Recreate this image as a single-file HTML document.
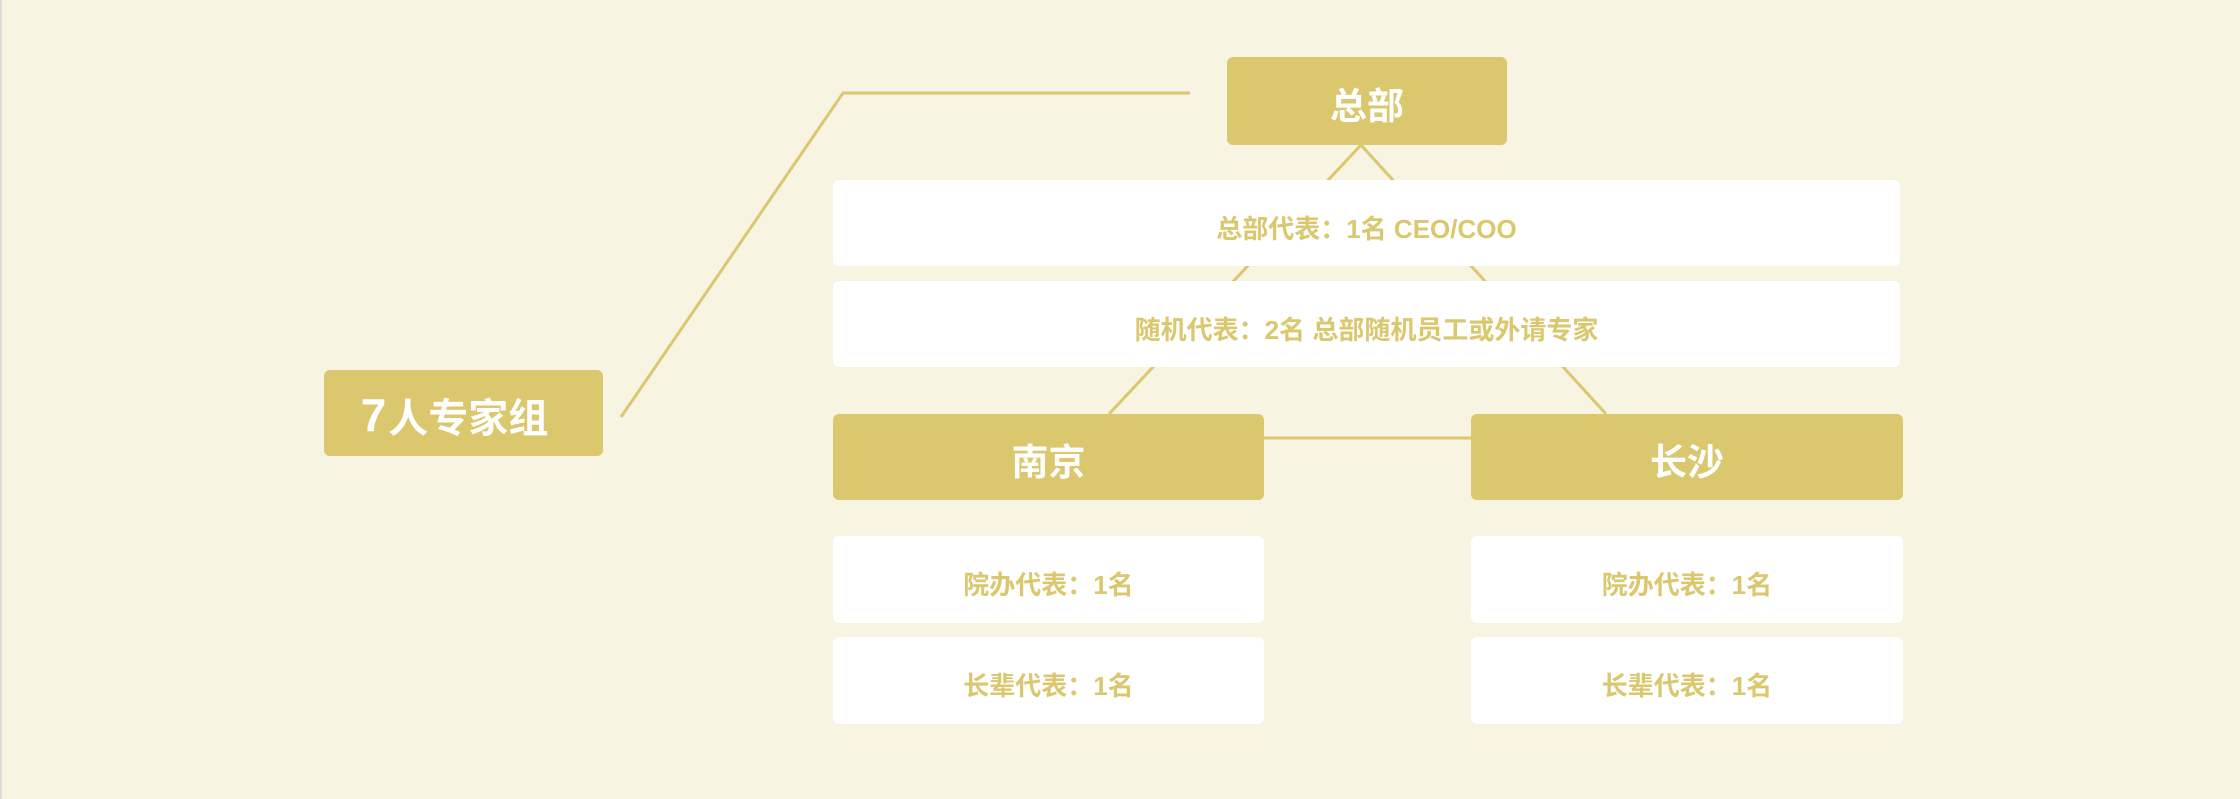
<!DOCTYPE html>
<html><head><meta charset="utf-8"><style>
body{margin:0;width:2240px;height:799px;background:#f7f4e2;position:relative;overflow:hidden;font-family:"Liberation Sans","Noto Sans CJK SC",sans-serif;font-weight:bold}
.b{position:absolute;display:flex;align-items:center;justify-content:center;border-radius:6px}
.g{background:#dac76e;color:#fff}
.w{background:#fff;color:#dac76e;font-size:26px;padding-top:8px;box-sizing:border-box}
</style></head><body>
<div style="position:absolute;left:0;top:0;width:2px;height:799px;background:#dcdcdc"></div>
<svg width="2240" height="799" style="position:absolute;left:0;top:0">
<g stroke="#dac76e" stroke-width="3" fill="none">
<polyline points="621,417 843,93 1190,93"/>
<line x1="1361" y1="145" x2="1109" y2="414"/>
<line x1="1361" y1="145" x2="1606" y2="414"/>
<line x1="1264" y1="438" x2="1471" y2="438"/>
</g></svg>
<div class="b g" style="left:324px;top:370px;width:279px;height:86px;font-size:40px;padding-right:18px;box-sizing:border-box;padding-top:4px"><span style="font-size:46px;margin-right:2px">7</span>人专家组</div>
<div class="b g" style="left:1227px;top:57px;width:280px;height:88px;font-size:37px;padding-top:4px;box-sizing:border-box">总部</div>
<div class="b w" style="left:833px;top:180px;width:1067px;height:86px">总部代表：1名 CEO/COO</div>
<div class="b w" style="left:833px;top:281px;width:1067px;height:86px">随机代表：2名 总部随机员工或外请专家</div>
<div class="b g" style="left:833px;top:414px;width:431px;height:86px;font-size:37px;padding-top:4px;box-sizing:border-box">南京</div>
<div class="b g" style="left:1471px;top:414px;width:432px;height:86px;font-size:37px;padding-top:4px;box-sizing:border-box">长沙</div>
<div class="b w" style="left:833px;top:536px;width:431px;height:87px">院办代表：1名</div>
<div class="b w" style="left:833px;top:637px;width:431px;height:87px">长辈代表：1名</div>
<div class="b w" style="left:1471px;top:536px;width:432px;height:87px">院办代表：1名</div>
<div class="b w" style="left:1471px;top:637px;width:432px;height:87px">长辈代表：1名</div>
</body></html>
